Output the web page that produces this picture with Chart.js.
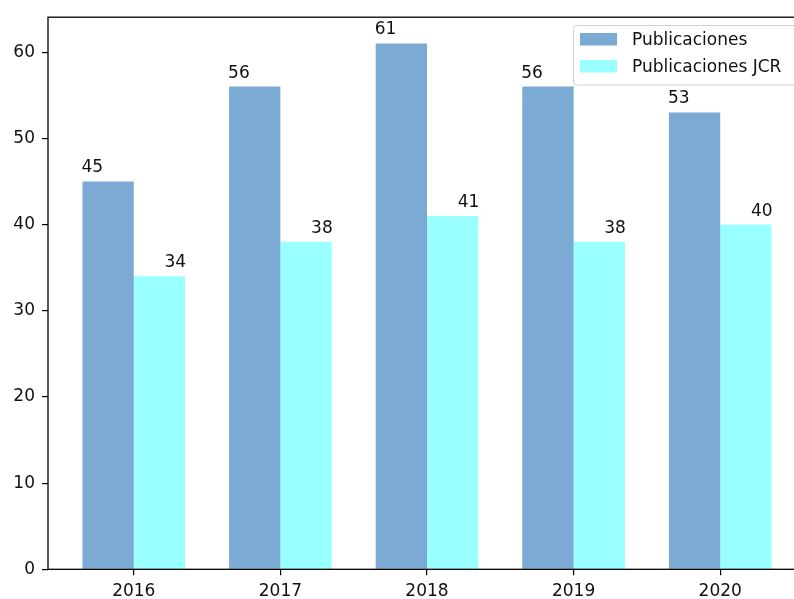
<!DOCTYPE html>
<html>
<head>
<meta charset="utf-8">
<script src="https://cdn.jsdelivr.net/npm/chart.js@4"></script>
<style>
  html, body { margin: 0; padding: 0; background: #fff; overflow: hidden; }
  canvas { display: block; }
</style>
</head>
<body>
<canvas id="pubChart" width="820" height="599"></canvas>
<script>
const years = ['2016', '2017', '2018', '2019', '2020'];
const publicaciones = [45, 56, 61, 56, 53];
const publicacionesJCR = [34, 38, 41, 38, 40];
const yTicks = [0, 10, 20, 30, 40, 50, 60];

const FONT = 'DejaVu Sans';
const TEXT = '#111';

// frame, value labels and legend drawn after the bars
const extras = {
    id: 'extras',
    afterDatasetsDraw(chart) {
        const ctx = chart.ctx;
        const a = chart.chartArea;
        ctx.save();
        ctx.font = '17px "' + FONT + '"';
        ctx.fillStyle = TEXT;
        ctx.textBaseline = 'alphabetic';
        chart.data.datasets.forEach((ds, di) => {
            chart.getDatasetMeta(di).data.forEach((bar, i) => {
                const w = bar.width;
                if (di === 0) {
                    ctx.textAlign = 'left';
                    ctx.fillText(ds.data[i].y, bar.x - w / 2 - 1, bar.y - 9);
                } else {
                    ctx.textAlign = 'right';
                    ctx.fillText(ds.data[i].y, bar.x + w / 2 + 1, bar.y - 9);
                }
            });
        });

        ctx.strokeStyle = '#000';
        ctx.lineWidth = 1.3;
        ctx.strokeRect(a.left, a.top, a.right - a.left, a.bottom - a.top);

        // legend, upper right
        const lx = 573.5, ly = 25.5, lw = 226, lh = 59.5;
        ctx.fillStyle = 'rgba(255,255,255,0.8)';
        ctx.strokeStyle = '#d0d0d0';
        ctx.lineWidth = 1;
        ctx.beginPath();
        ctx.roundRect(lx, ly, lw, lh, 3);
        ctx.fill();
        ctx.stroke();
        ctx.textAlign = 'left';
        ctx.textBaseline = 'middle';
        chart.data.datasets.forEach((ds, di) => {
            const cy = 39 + di * 27;
            ctx.fillStyle = ds.backgroundColor;
            ctx.fillRect(580, cy - 6, 37, 12.5);
            ctx.fillStyle = TEXT;
            ctx.fillText(ds.label, 632, cy + 1.5);
        });
        ctx.restore();
    }
};

new Chart(document.getElementById('pubChart').getContext('2d'), {
    type: 'bar',
    data: {
        datasets: [{
            label: 'Publicaciones',
            data: publicaciones.map((v, i) => ({ x: i, y: v })),
            backgroundColor: '#7baad4',
            categoryPercentage: 0.7,
            barPercentage: 1.0
        }, {
            label: 'Publicaciones JCR',
            data: publicacionesJCR.map((v, i) => ({ x: i, y: v })),
            backgroundColor: '#99ffff',
            categoryPercentage: 0.7,
            barPercentage: 1.0
        }]
    },
    options: {
        responsive: false,
        animation: false,
        layout: { padding: { top: 15, right: 14, left: 0, bottom: 0 } },
        plugins: {
            legend: { display: false },
            tooltip: { enabled: false }
        },
        scales: {
            x: {
                type: 'linear',
                min: -0.585,
                max: 4.585,
                offset: false,
                afterBuildTicks: s => { s.ticks = years.map((y, i) => ({ value: i })); },
                afterFit: s => { s.height = 29.7; },
                ticks: {
                    callback: v => years[v],
                    font: { family: FONT, size: 17 },
                    color: TEXT,
                    padding: 6,
                    maxRotation: 0
                },
                grid: { offset: false, drawOnChartArea: false, drawTicks: true, tickLength: 6, color: '#000', lineWidth: 1.2 },
                border: { display: false }
            },
            y: {
                min: 0,
                max: 64.05,
                afterBuildTicks: s => { s.ticks = yTicks.map(v => ({ value: v })); },
                afterFit: s => { s.width = 48; },
                ticks: {
                    font: { family: FONT, size: 17 },
                    color: TEXT,
                    padding: 7
                },
                grid: { drawOnChartArea: false, drawTicks: true, tickLength: 6, color: '#000', lineWidth: 1.2 },
                border: { display: false }
            }
        }
    },
    plugins: [extras]
});
</script>
</body>
</html>
